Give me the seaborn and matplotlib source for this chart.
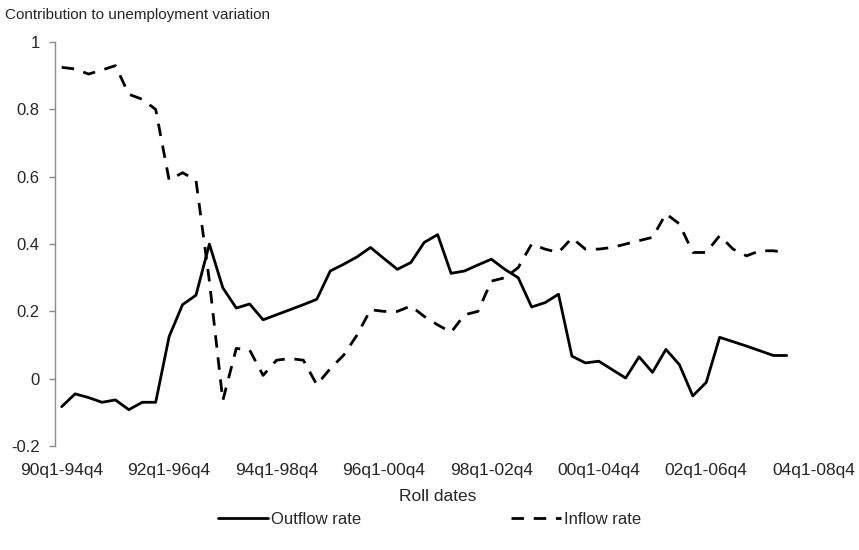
import pandas as pd
import seaborn as sns
import matplotlib.pyplot as plt

# rolling windows, one per quarter starting 90q1-94q4
outflow = [-0.083, -0.045, -0.056, -0.07, -0.063, -0.092, -0.07, -0.07,
           0.125, 0.22, 0.248, 0.40, 0.27, 0.21, 0.222, 0.175,
           0.19, 0.205, 0.22, 0.236, 0.32, 0.34, 0.362, 0.39,
           0.357, 0.325, 0.345, 0.405, 0.428, 0.313, 0.32, 0.338,
           0.355, 0.325, 0.30, 0.213, 0.226, 0.251, 0.067, 0.047,
           0.052, 0.027, 0.002, 0.065, 0.019, 0.087, 0.042, -0.051,
           -0.011, 0.123, 0.11, 0.097, 0.083, 0.069, 0.069]
inflow = [0.925, 0.92, 0.905, 0.917, 0.93, 0.845, 0.83, 0.80,
          0.59, 0.612, 0.59, 0.29, -0.065, 0.09, 0.085, 0.01,
          0.055, 0.06, 0.055, -0.018, 0.03, 0.07, 0.13, 0.205,
          0.2, 0.2, 0.216, 0.185, 0.16, 0.138, 0.19, 0.2,
          0.29, 0.3, 0.33, 0.40, 0.385, 0.375, 0.418, 0.385,
          0.385, 0.39, 0.40, 0.41, 0.42, 0.49, 0.46, 0.375,
          0.375, 0.425, 0.385, 0.365, 0.38, 0.38, 0.375]
tick_labels = ["90q1-94q4", "92q1-96q4", "94q1-98q4", "96q1-00q4",
               "98q1-02q4", "00q1-04q4", "02q1-06q4", "04q1-08q4"]
y_ticks = [-0.2, 0, 0.2, 0.4, 0.6, 0.8, 1]
y_labels = ["-0.2", "0", "0.2", "0.4", "0.6", "0.8", "1"]

sns.set_style("white")
plt.rcParams['font.family'] = ['Liberation Sans', 'DejaVu Sans']

df = pd.DataFrame({"roll": range(len(outflow)),
                   "Outflow rate": outflow,
                   "Inflow rate": inflow})
long = df.melt(id_vars="roll", var_name="series", value_name="value")

fig = plt.figure(figsize=(8.59, 5.5), dpi=100)
ax = fig.add_axes([0.064, 0.189, 0.891, 0.7345])

sns.lineplot(data=long, x="roll", y="value", style="series",
             dashes={"Outflow rate": "", "Inflow rate": (4.5, 3.5)},
             color="black", linewidth=2.0, ax=ax)

ax.set_xlim(-0.5, 56.5)
ax.set_ylim(-0.2, 1)
ax.set_xticks(range(0, 57, 8))
ax.set_xticklabels(tick_labels, fontsize=12.5)
ax.set_yticks(y_ticks)
ax.set_yticklabels(y_labels, fontsize=12)
ax.tick_params(axis="x", length=0, pad=12)
ax.tick_params(axis="y", length=4, width=1, color="#8c8c8c", pad=7, left=True)
ax.set_xlabel("Roll dates", fontsize=12.5, labelpad=8)
ax.set_ylabel("")

for s in ["top", "right", "bottom"]:
    ax.spines[s].set_visible(False)
ax.spines["left"].set_color("#8c8c8c")
ax.spines["left"].set_linewidth(1)

fig.text(0.006, 0.972, "Contribution to unemployment variation",
         fontsize=11, ha="left", va="center")

handles, labels = ax.get_legend_handles_labels()
ax.get_legend().remove()
fig.legend(handles, labels, loc="center", bbox_to_anchor=(0.5, 0.055),
           ncol=2, frameon=False, fontsize=12, handlelength=3,
           handletextpad=0.2, columnspacing=9)

fig.savefig("out.png", dpi=100)
